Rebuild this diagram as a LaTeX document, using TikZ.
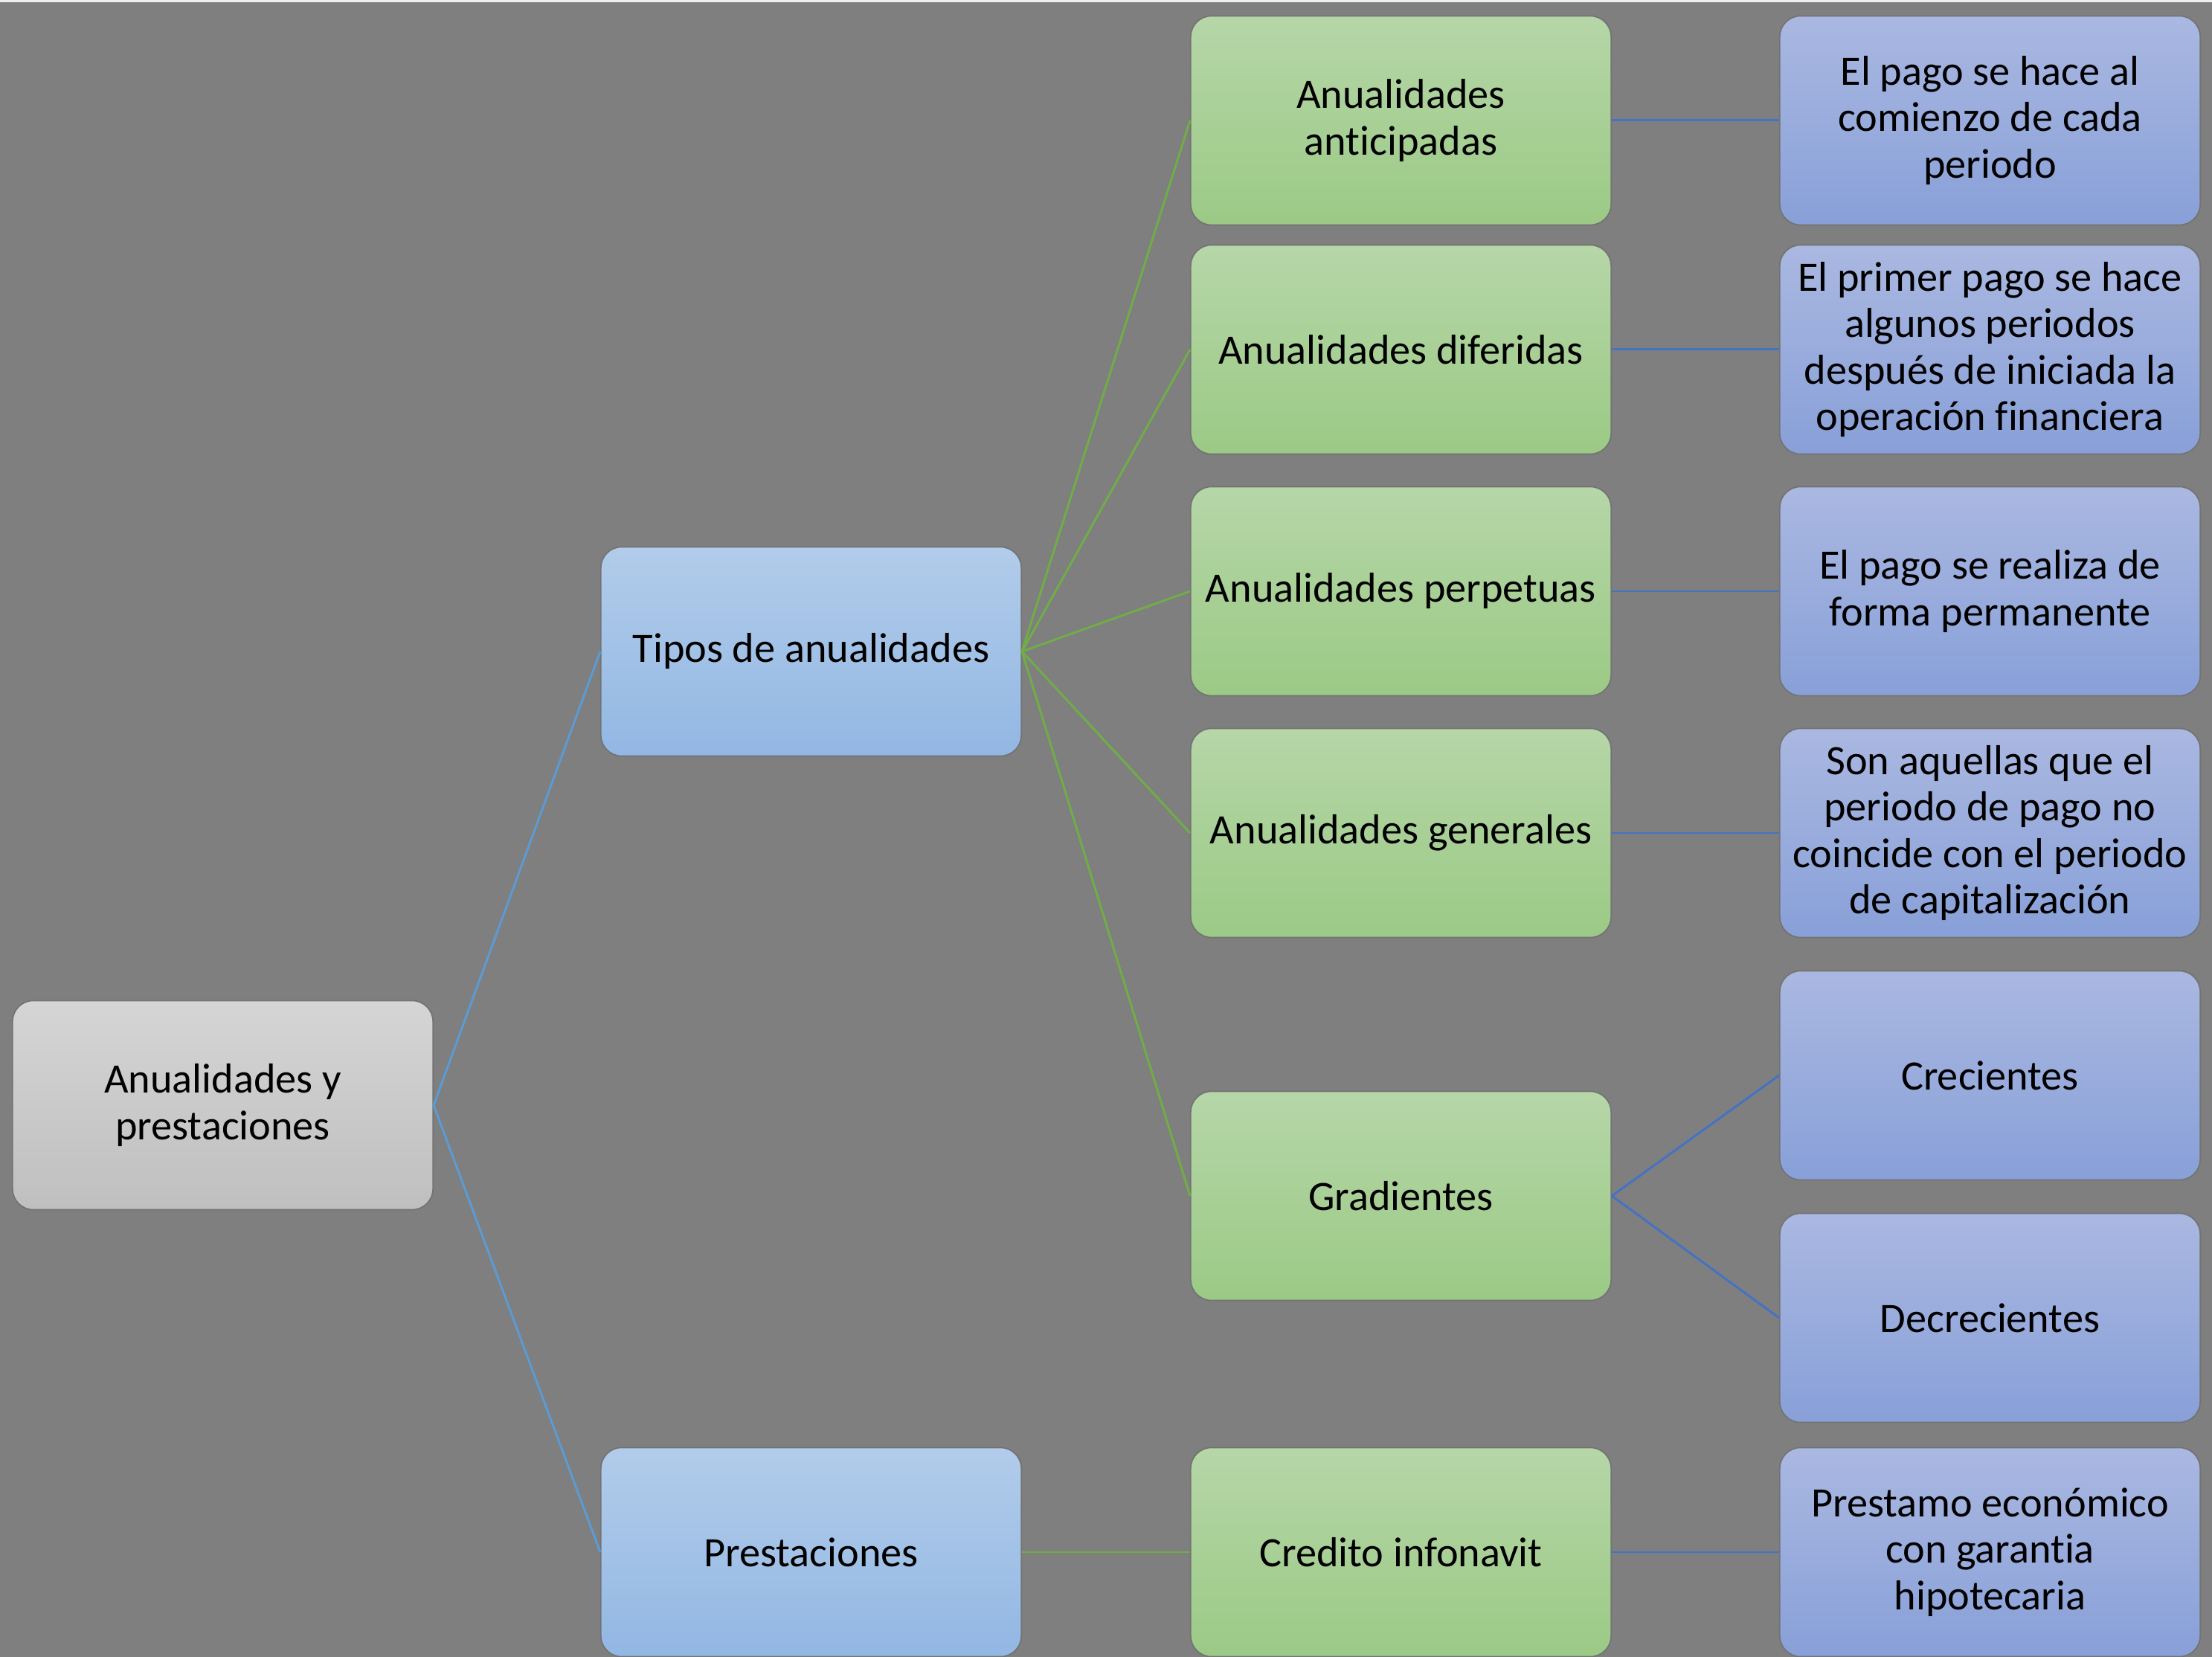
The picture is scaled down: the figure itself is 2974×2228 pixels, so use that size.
\documentclass[tikz,border=0pt]{standalone}
\usepackage{fontspec}
\setmainfont{Carlito}[Ligatures={NoCommon}]
\definecolor{bg}{HTML}{7F7F7F}
\definecolor{rootT}{HTML}{D5D5D5}
\definecolor{rootB}{HTML}{BFBFBF}
\definecolor{lbT}{HTML}{B2CCEA}
\definecolor{lbB}{HTML}{92B7E3}
\definecolor{grT}{HTML}{B6D6A8}
\definecolor{grB}{HTML}{9BCA85}
\definecolor{pbT}{HTML}{AAB8E1}
\definecolor{pbB}{HTML}{88A0D8}
\definecolor{lnLB}{HTML}{5B9BD5}
\definecolor{lnGR}{HTML}{70AD47}
\definecolor{lnDB}{HTML}{4472C4}
\tikzset{
  box/.style={rectangle, rounded corners=0.28cm, draw=black!55, line width=0.5pt,
    minimum width=5.65cm, minimum height=2.81cm, inner sep=0pt, align=center,
    font=\fontsize{16pt}{17.7pt}\selectfont, text=black},
  rootbox/.style={box, top color=rootT, bottom color=rootB},
  lbbox/.style={box, top color=lbT, bottom color=lbB},
  grbox/.style={box, top color=grT, bottom color=grB},
  pbbox/.style={box, top color=pbT, bottom color=pbB},
  cLB/.style={draw=lnLB, line width=0.85pt},
  cGR/.style={draw=lnGR, line width=0.85pt},
  cDB/.style={draw=lnDB, line width=0.85pt}
}
\begin{document}
\begin{tikzpicture}[x=0.01cm, y=-0.01cm]
\useasboundingbox (0,0) rectangle (2974,2228);
\fill[bg] (0,0) rectangle (2974,2228);
\fill[black!6] (0,0) rectangle (2974,3);

% column 1
\node[rootbox] (root) at (299.5,1486) {Anualidades y\\prestaciones};
% column 2
\node[lbbox] (tipos) at (1090.5,876) {Tipos de anualidades};
\node[lbbox] (prest) at (1090.5,2087) {Prestaciones};
% column 3
\node[grbox] (g1) at (1883.5,162) {Anualidades\\anticipadas};
\node[grbox] (g2) at (1883.5,470) {Anualidades diferidas};
\node[grbox] (g3) at (1883.5,795) {Anualidades perpetuas};
\node[grbox] (g4) at (1883.5,1120) {Anualidades generales};
\node[grbox] (g5) at (1883.5,1608) {Gradientes};
\node[grbox] (g6) at (1883.5,2087) {Credito infonavit};
% column 4
\node[pbbox] (b1) at (2675.5,162) {El pago se hace al\\comienzo de cada\\periodo};
\node[pbbox] (b2) at (2675.5,470) {El primer pago se hace\\algunos periodos\\después de iniciada la\\operación financiera};
\node[pbbox] (b3) at (2675.5,795) {El pago se realiza de\\forma permanente};
\node[pbbox] (b4) at (2675.5,1120) {Son aquellas que el\\periodo de pago no\\coincide con el periodo\\de capitalización};
\node[pbbox] (b5) at (2675.5,1446) {Crecientes};
\node[pbbox] (b6) at (2675.5,1772) {Decrecientes};
\node[pbbox] (b7) at (2675.5,2087) {Prestamo económico\\con garantia\\hipotecaria};

% connectors
\draw[cLB] (root.east) -- (tipos.west);
\draw[cLB] (root.east) -- (prest.west);
\foreach \g in {g1,g2,g3,g4,g5} { \draw[cGR] (tipos.east) -- (\g.west); }
\draw[cGR] (prest.east) -- (g6.west);
\draw[cDB] (g1.east) -- (b1.west);
\draw[cDB] (g2.east) -- (b2.west);
\draw[cDB] (g3.east) -- (b3.west);
\draw[cDB] (g4.east) -- (b4.west);
\draw[cDB] (g5.east) -- (b5.west);
\draw[cDB] (g5.east) -- (b6.west);
\draw[cDB] (g6.east) -- (b7.west);
\end{tikzpicture}
\end{document}
